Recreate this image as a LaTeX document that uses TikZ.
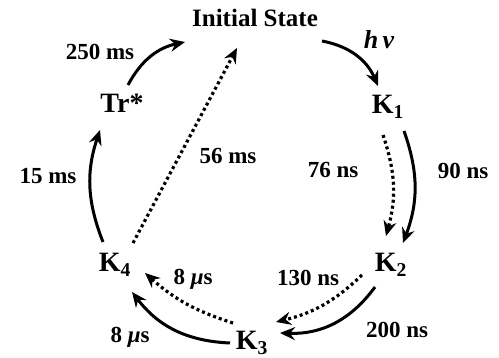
\documentclass[tikz,border=0pt]{standalone}
\usepackage{fontspec}
\setmainfont{Liberation Serif}
\usetikzlibrary{arrows.meta}
\begin{document}
\begin{tikzpicture}[x=1pt,y=-1pt,
  lbl/.style={font=\fontsize{23}{26}\selectfont\bfseries, inner sep=0pt},
  klbl/.style={font=\fontsize{28}{30}\selectfont\bfseries, inner sep=0pt},
  tip/.style={-{Stealth[length=15pt,width=13pt,inset=5pt]}},
  solidarr/.style={tip, line width=3pt},
  dotarr/.style={tip, line width=3.2pt, dash pattern=on 3pt off 3pt},
]
\useasboundingbox (0,0) rectangle (499,358);
% states
\node[lbl,font=\fontsize{25}{28}\selectfont\bfseries] (init) at (255,18) {Initial State};
\node[lbl,font=\fontsize{26}{28}\selectfont\bfseries\itshape] (hv) at (379,40) {h\,ν};
\node[klbl] (K1) at (388,107) {K\textsubscript{1}};
\node[klbl] (K2) at (391,265) {K\textsubscript{2}};
\node[klbl] (K3) at (252,343) {K\textsubscript{3}};
\node[klbl] (K4) at (115,265) {K\textsubscript{4}};
\node[klbl] (Tr) at (122,103) {Tr*};
% rate labels
\node[lbl] (l250) at (100,52) {250 ms};
\node[lbl] (l15) at (48,176) {15 ms};
\node[lbl] (l56) at (228,156) {56 ms};
\node[lbl] (l76) at (333,170) {76 ns};
\node[lbl] (l90) at (463,171) {90 ns};
\node[lbl] (l130) at (308,278) {130 ns};
\node[lbl] (l200) at (397,330) {200 ns};
\node[lbl] (l8a) at (193,279) {8 {\itshape μ}s};
\node[lbl] (l8b) at (130,337) {8 {\itshape μ}s};
% connectors
\draw[solidarr] ([shift={(67,23)}]init.center) to[bend left=28] ([shift={(-10,-21)}]K1.center);
\draw[solidarr] ([shift={(16,24)}]K1.center) to[bend left=20] ([shift={(12,-22)}]K2.center);
\draw[dotarr] ([shift={(-5,28)}]K1.center) to[bend left=17] ([shift={(-5,-29)}]K2.center);
\draw[solidarr] ([shift={(-16,22)}]K2.center) to[bend left=28] ([shift={(28,-10)}]K3.center);
\draw[dotarr] ([shift={(-29,10)}]K2.center) to[bend left=15] ([shift={(24,-21)}]K3.center);
\draw[solidarr] ([shift={(-22,0)}]K3.center) to[bend left=25] ([shift={(17,27)}]K4.center);
\draw[dotarr] ([shift={(-19,-20)}]K3.center) to[bend left=12] ([shift={(30,8)}]K4.center);
\draw[solidarr] ([shift={(-12,-23)}]K4.center) to[bend left=20] ([shift={(-22,27)}]Tr.center);
\draw[solidarr] ([shift={(6,-18)}]Tr.center) to[bend left=25] ([shift={(-70,24)}]init.center);
\draw[dotarr] ([shift={(18,-22)}]K4.center) -- ([shift={(-18,30)}]init.center);
\end{tikzpicture}
\end{document}
